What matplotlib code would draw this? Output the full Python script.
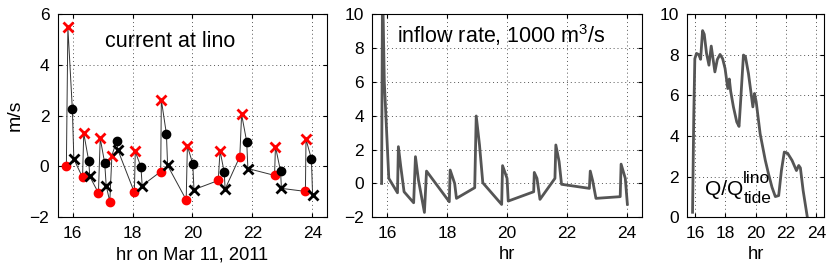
import matplotlib
matplotlib.use("Agg")
import matplotlib.pyplot as plt
import numpy as np

plt.rcParams['font.family'] = ['Liberation Sans', 'DejaVu Sans']
plt.rcParams['mathtext.fontset'] = 'custom'
plt.rcParams['mathtext.rm'] = 'Liberation Sans'

# current at lino: red circles, red crosses, black circles, black crosses
t_rc = [15.79, 16.33, 16.86, 17.24, 18.06, 18.94, 19.79, 20.86, 21.58, 22.74, 23.77]
v_rc = [0.0, -0.43, -1.04, -1.38, -1.02, -0.2, -1.31, -0.55, 0.39, -0.35, -0.98]
t_rx = [15.84, 16.37, 16.92, 17.31, 18.09, 18.96, 19.83, 20.92, 21.64, 22.77, 23.79]
v_rx = [5.47, 1.31, 1.11, 0.43, 0.59, 2.62, 0.81, 0.62, 2.05, 0.78, 1.07]
t_bc = [15.99, 16.54, 17.07, 17.47, 18.28, 19.13, 20.01, 21.06, 21.81, 22.94, 23.97]
v_bc = [2.25, 0.2, 0.13, 1.02, -0.02, 1.28, 0.1, -0.23, 0.98, -0.18, 0.3]
t_bx = [16.04, 16.57, 17.12, 17.51, 18.32, 19.17, 20.05, 21.09, 21.85, 22.97, 24.01]
v_bx = [0.29, -0.39, -0.76, 0.65, -0.75, 0.04, -0.91, -0.89, -0.08, -0.86, -1.14]

# inflow rate, 1000 m3/s
t_q = [15.81, 15.84, 15.9, 16.05, 16.34, 16.37, 16.45, 16.56, 16.88, 16.94, 17.04, 17.24,
       17.31, 18.07, 18.1, 18.25, 18.31, 18.92, 18.97, 19.08, 19.19, 19.82, 19.85, 20.0,
       20.04, 20.89, 20.91, 21.0, 21.1, 21.6, 21.63, 21.74, 21.82, 22.75, 22.78, 22.86,
       22.97, 23.78, 23.81, 23.95, 24.02]
v_q = [0.0, 12.0, 6.0, 0.3, -0.55, 2.17, 0.99, -0.49, -1.14, 1.58, 0.2, -1.71,
       0.73, -1.08, 0.79, 0.0, -0.88, -0.25, 3.98, 2.27, 0.04, -1.24, 1.05, 0.3,
       -1.04, -0.49, 0.65, 0.3, -0.94, 0.3, 2.27, 1.28, -0.05, -0.29, 0.73, 0.16,
       -0.88, -0.78, 1.14, 0.3, -1.23]

# Q / Q_tide
t_r = [15.85, 15.93, 16.0, 16.11, 16.26, 16.38, 16.51, 16.62, 16.77, 16.93, 17.08, 17.21,
       17.32, 17.48, 17.66, 17.83, 17.99, 18.17, 18.27, 18.36, 18.54, 18.76, 18.91, 19.02,
       19.2, 19.33, 19.53, 19.69, 19.82, 19.93, 20.04, 20.3, 20.64, 20.85, 21.08, 21.3,
       21.52, 21.7, 21.89, 22.11, 22.4, 22.69, 22.84, 22.95, 23.13, 23.45]
v_r = [0.25, 5.0, 7.8, 8.06, 8.0, 7.77, 9.18, 9.0, 8.06, 7.48, 8.42, 7.73,
       7.15, 7.76, 8.01, 7.8, 7.32, 6.33, 6.8, 6.2, 5.43, 4.69, 4.47, 5.76,
       7.98, 7.9, 7.07, 6.17, 5.43, 6.09, 5.68, 4.11, 2.8, 2.14, 1.48, 1.02,
       1.07, 2.3, 3.21, 3.15, 2.8, 2.3, 2.55, 2.43, 1.32, -0.2]

fig = plt.figure(figsize=(8.3, 2.68), dpi=100)
ax1 = fig.add_axes([0.0695, 0.189, 0.3248, 0.759])
ax2 = fig.add_axes([0.4486, 0.189, 0.3246, 0.759])
ax3 = fig.add_axes([0.828, 0.189, 0.1647, 0.759])

# connecting line through all points in time order
t_all = np.column_stack([t_rc, t_rx, t_bc, t_bx]).ravel()
v_all = np.column_stack([v_rc, v_rx, v_bc, v_bx]).ravel()
ax1.plot(t_all, v_all, color='#333333', lw=0.7, zorder=2)
ax1.plot(t_rc, v_rc, 'o', color='red', ms=6, mec='red', zorder=3)
ax1.plot(t_rx, v_rx, 'x', color='red', ms=6.5, mew=2, zorder=3)
ax1.plot(t_bc, v_bc, 'o', color='black', ms=6, zorder=3)
ax1.plot(t_bx, v_bx, 'x', color='black', ms=6.5, mew=2, zorder=3)
ax1.set_ylim(-2, 6)
ax1.set_yticks([-2, 0, 2, 4, 6])
ax1.set_ylabel('m/s', fontsize=14)
ax1.set_xlabel('hr on Mar 11, 2011', fontsize=13.2, labelpad=4)
ax1.text(0.417, 0.864, 'current at lino', transform=ax1.transAxes,
         ha='center', va='center', fontsize=15.5)

ax2.plot(t_q, v_q, color='#555555', lw=2)
ax2.set_ylim(-2, 10)
ax2.set_yticks([-2, 0, 2, 4, 6, 8, 10])
ax2.set_xlabel('hr', fontsize=13.2, labelpad=4)
ax2.text(0.48, 0.897, r'inflow rate, 1000 m$^3$/s', transform=ax2.transAxes,
         ha='center', va='center', fontsize=15.5)

ax3.plot(t_r, v_r, color='#555555', lw=2)
ax3.set_ylim(0, 10)
ax3.set_yticks([0, 2, 4, 6, 8, 10])
ax3.set_xlabel('hr', fontsize=13.2, labelpad=4)
ax3.text(0.13, 0.11, 'Q/Q', transform=ax3.transAxes,
         ha='left', va='baseline', fontsize=15)
ax3.text(0.41, 0.17, 'lino', transform=ax3.transAxes,
         ha='left', va='baseline', fontsize=12.5)
ax3.text(0.41, 0.07, 'tide', transform=ax3.transAxes,
         ha='left', va='baseline', fontsize=12.5)

for ax in (ax1, ax2, ax3):
    ax.set_xlim(15.5, 24.5)
    ax.set_xticks([16, 18, 20, 22, 24])
    ax.grid(True, linestyle=(0, (1, 3)), color='#555555', lw=0.7)
    ax.tick_params(direction='in', top=True, right=True, labelsize=12.5, length=3, pad=6)
    for s in ax.spines.values():
        s.set_linewidth(0.8)

fig.savefig('out.png', dpi=100)
